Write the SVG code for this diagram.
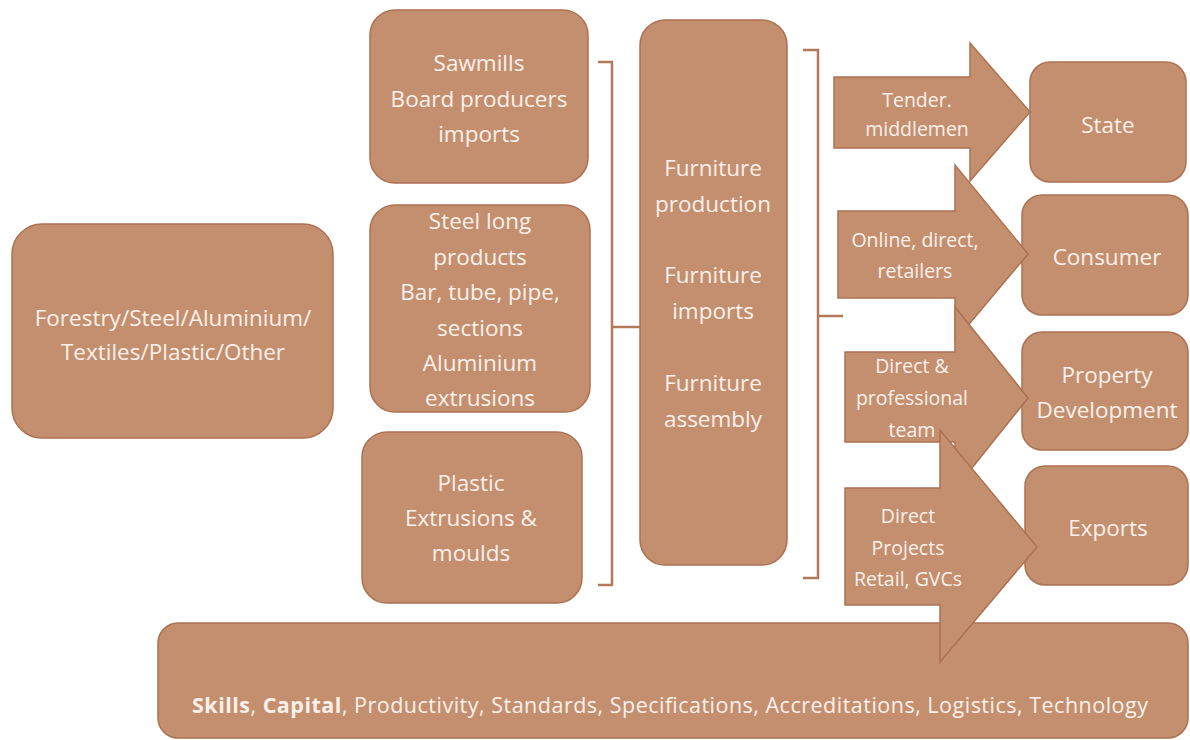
<svg xmlns="http://www.w3.org/2000/svg" width="1190" height="740" viewBox="0 0 1190 740">
<style>
.box{fill:#c48f6f;stroke:#ac7252;stroke-width:1.5}
.arr{fill:#c48f6f;stroke:#ac7252;stroke-width:1.5;stroke-linejoin:miter}
.br{fill:none;stroke:#b27a5b;stroke-width:2.5}
text{font-family:"Open Sans","Noto Sans","Liberation Sans",sans-serif;fill:#fbf1ea;text-anchor:middle}
.t{font-size:22.5px}
.s{font-size:19.5px}
.b{font-weight:bold}
</style>
<rect width="1190" height="740" fill="#ffffff"/>
<g id="connectors">
<path class="br" d="M598,62 H612 V585 H598 M612,327 H640"/>
<path class="br" d="M803,50 H818 V578 H803 M818,316 H843"/>
</g>
<g id="n-raw">
<rect class="box" x="12" y="224" width="321" height="214" rx="30"/>
<text class="t" x="173" y="326">Forestry/Steel/Aluminium/</text>
<text class="t" x="173" y="360">Textiles/Plastic/Other</text>
</g>
<g id="n-sawmills">
<rect class="box" x="370" y="10" width="218" height="173" rx="25"/>
<text class="t" x="479" y="71">Sawmills</text>
<text class="t" x="479" y="107">Board producers</text>
<text class="t" x="479" y="142">imports</text>
</g>
<g id="n-steel">
<rect class="box" x="370" y="205" width="220" height="207" rx="25"/>
<text class="t" x="480" y="229">Steel long</text>
<text class="t" x="480" y="265">products</text>
<text class="t" x="480" y="300">Bar, tube, pipe,</text>
<text class="t" x="480" y="336">sections</text>
<text class="t" x="480" y="371">Aluminium</text>
<text class="t" x="480" y="406">extrusions</text>
</g>
<g id="n-plastic">
<rect class="box" x="362" y="432" width="220" height="171" rx="25"/>
<text class="t" x="471" y="491">Plastic</text>
<text class="t" x="471" y="526">Extrusions &amp;</text>
<text class="t" x="471" y="561">moulds</text>
</g>
<g id="n-furniture">
<rect class="box" x="640" y="20" width="147" height="545" rx="25"/>
<text class="t" x="713" y="176">Furniture</text>
<text class="t" x="713" y="212">production</text>
<text class="t" x="713" y="283">Furniture</text>
<text class="t" x="713" y="319">imports</text>
<text class="t" x="713" y="391">Furniture</text>
<text class="t" x="713" y="427">assembly</text>
</g>
<g id="n-state">
<rect class="box" x="1030" y="62" width="156" height="120" rx="20"/>
<text class="t" x="1108" y="133">State</text>
</g>
<g id="n-consumer">
<rect class="box" x="1022" y="195" width="166" height="120" rx="20"/>
<text class="t" x="1107" y="265">Consumer</text>
</g>
<g id="n-property">
<rect class="box" x="1022" y="332" width="166" height="118" rx="20"/>
<text class="t" x="1107" y="383">Property</text>
<text class="t" x="1107" y="418">Development</text>
</g>
<g id="n-exports">
<rect class="box" x="1025" y="466" width="163" height="119" rx="20"/>
<text class="t" x="1108" y="536">Exports</text>
</g>
<g id="n-base">
<rect class="box" x="158" y="623" width="1030" height="115" rx="20"/>
<text x="670" y="713" font-size="21.5" textLength="956" lengthAdjust="spacing"><tspan class="b">Skills</tspan>, <tspan class="b">Capital</tspan>, Productivity,  Standards, Specifications, Accreditations, Logistics, Technology</text>
</g>
<g id="a-state">
<path class="arr" d="M834,77 H970 V43 L1030,112 L970,181 V148 H834 Z"/>
<text class="s" x="917" y="107">Tender.</text>
<text class="s" x="917" y="136">middlemen</text>
</g>
<g id="a-consumer">
<path class="arr" d="M838,211 H955 V165 L1028,254 L955,341 V298 H838 Z"/>
<text class="s" x="915" y="247">Online, direct,</text>
<text class="s" x="915" y="278">retailers</text>
</g>
<g id="a-property">
<path class="arr" d="M845,352 H955 V307 L1028,398 L955,489 V442 H845 Z"/>
<text class="s" x="912" y="373">Direct &amp;</text>
<text class="s" x="912" y="405">professional</text>
<text class="s" x="912" y="437">team</text>
</g>
<g id="a-exports">
<path class="arr" d="M845,488 H940 V430 L1037,547 L940,662 V605 H845 Z"/>
<text class="s" x="908" y="523">Direct</text>
<text class="s" x="908" y="555">Projects</text>
<text class="s" x="908" y="586">Retail, GVCs</text>
</g>
</svg>
